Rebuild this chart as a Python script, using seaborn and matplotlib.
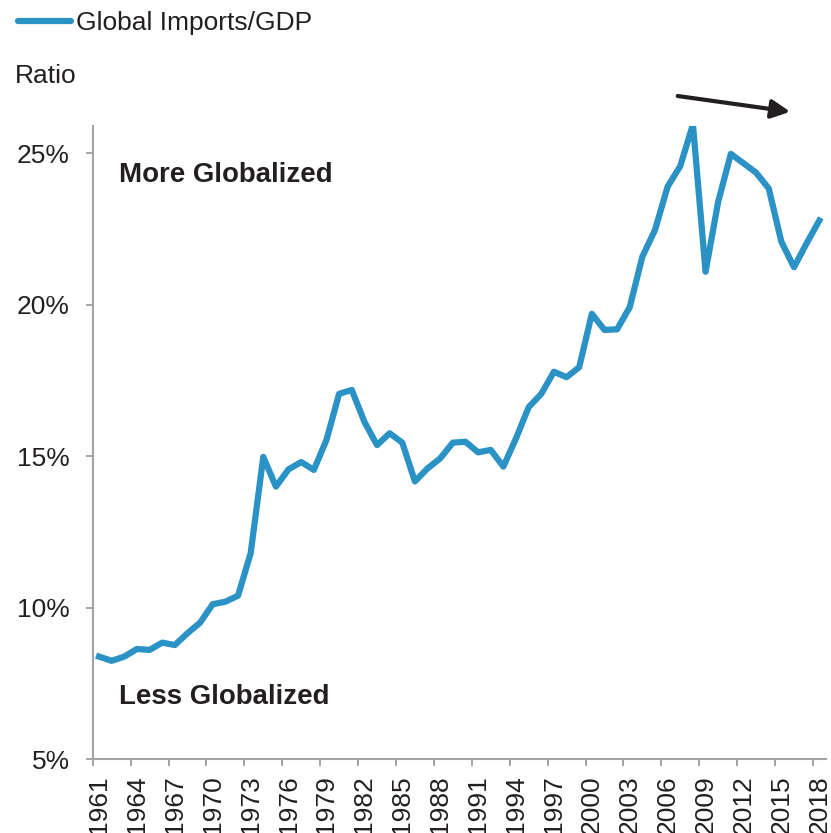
import numpy as np
import pandas as pd
import matplotlib
matplotlib.use("Agg")
import matplotlib.pyplot as plt
import seaborn as sns

years = list(range(1961, 2019))
imports_gdp = [
    8.39, 8.25, 8.39, 8.64, 8.61, 8.85, 8.77, 9.16, 9.51, 10.12,
    10.20, 10.40, 11.80, 14.98, 14.00, 14.57, 14.81, 14.55, 15.54, 17.06,
    17.19, 16.14, 15.37, 15.76, 15.45, 14.17, 14.60, 14.93, 15.45, 15.48,
    15.13, 15.21, 14.66, 15.59, 16.62, 17.06, 17.79, 17.61, 17.94, 19.70,
    19.17, 19.19, 19.92, 21.59, 22.47, 23.90, 24.58, 25.95, 21.09, 23.40,
    24.98, 24.67, 24.36, 23.84, 22.08, 21.24, 22.03, 22.78,
]
series_label = "Global Imports/GDP"
y_ticks = [5, 10, 15, 20, 25]
x_label_years = list(range(1961, 2019, 3))

BLUE = "#2b92c5"
DARK = "#231f20"
GREY = "#a3a3a3"

sns.set_style("white")
plt.rcParams["font.family"] = ["Liberation Sans", "DejaVu Sans"]
plt.rcParams["text.color"] = DARK

fig = plt.figure(figsize=(8.31, 8.33), dpi=100)
ax = fig.add_axes([92.7 / 831, 1 - 759.3 / 833, (825.6 - 92.7) / 831, (759.3 - 126) / 833])

df = pd.DataFrame({"year": years, "value": imports_gdp})
sns.lineplot(data=df, x="year", y="value", ax=ax, color=BLUE, linewidth=4.5,
             label=series_label, legend=False, solid_joinstyle="round",
             solid_capstyle="projecting")

ax.set_xlim(1960.5, 2018.5)
ax.set_ylim(5, 25.9)

ax.set_yticks(y_ticks)
ax.set_yticklabels([f"{v}%" for v in y_ticks])
ax.set_xticks(x_label_years)
ax.set_xticklabels([str(y) for y in x_label_years], rotation=90)
ax.set_xticks([y - 0.5 for y in x_label_years], minor=True)

ax.tick_params(axis="x", which="major", length=0, pad=11.5, labelsize=19, colors=DARK)
ax.tick_params(axis="x", which="minor", length=5.2, width=1.4, color=GREY, direction="out")
ax.tick_params(axis="y", which="major", length=5.4, width=1.4, color=GREY, direction="out",
               pad=11, labelsize=19, labelcolor=DARK)
ax.xaxis.set_ticks_position("bottom")
ax.yaxis.set_ticks_position("left")

for s in ["top", "right"]:
    ax.spines[s].set_visible(False)
for s in ["left", "bottom"]:
    ax.spines[s].set_color(GREY)
    ax.spines[s].set_linewidth(1.5)

ax.set_xlabel("")
ax.set_ylabel("")
ax.grid(False)

ax.text(0.036, 0.922, "More Globalized", transform=ax.transAxes, fontsize=19.9,
        fontweight="bold", color=DARK, ha="left", va="center")
ax.text(0.036, 0.099, "Less Globalized", transform=ax.transAxes, fontsize=19.9,
        fontweight="bold", color=DARK, ha="left", va="center")

ax.annotate("", xy=(2015.7, 26.37), xytext=(2006.8, 26.89), xycoords="data",
            textcoords="data", annotation_clip=False,
            arrowprops=dict(arrowstyle="-|>", lw=3, color=DARK, mutation_scale=28,
                            shrinkA=0, shrinkB=0))

fig.text(15 / 831, 1 - 83 / 833, "Ratio", fontsize=19, color=DARK, ha="left", va="baseline")

handles, labels = ax.get_legend_handles_labels()
leg = fig.legend(handles, labels, loc="upper left", bbox_to_anchor=(18 / 831, 1 - 11 / 833),
                 frameon=False, fontsize=19, handlelength=2.0, handletextpad=0.2,
                 borderpad=0, borderaxespad=0)
for t in leg.get_texts():
    t.set_color(DARK)
for h in leg.legend_handles:
    h.set_solid_capstyle("round")

fig.savefig("out.png", dpi=100)
